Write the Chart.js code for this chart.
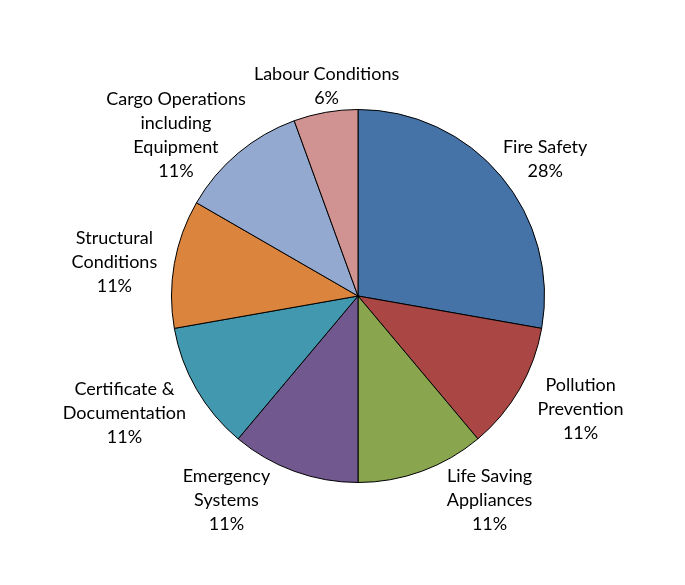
<!DOCTYPE html>
<html>
<head>
<meta charset="utf-8">
<script src="https://cdn.jsdelivr.net/npm/chart.js@4"></script>
<style>
  html, body { margin: 0; padding: 0; background: #fff; }
  #wrap { width: 685px; height: 585px; }
</style>
</head>
<body>
<div id="wrap"><canvas id="pieChart" width="685" height="585"></canvas></div>
<script>
// categories in clockwise order from 12 o'clock
const categories = [
    ['Fire Safety'],
    ['Pollution', 'Prevention'],
    ['Life Saving', 'Appliances'],
    ['Emergency', 'Systems'],
    ['Certificate &', 'Documentation'],
    ['Structural', 'Conditions'],
    ['Cargo Operations', 'including', 'Equipment'],
    ['Labour Conditions'],
];
const counts = [5, 2, 2, 2, 2, 2, 2, 1];
const percentLabels = ['28%', '11%', '11%', '11%', '11%', '11%', '11%', '6%'];

const palette = ['#4572A7', '#AA4643', '#89A54E', '#71588F', '#4198AF', '#DB843D', '#93A9CF', '#D19392'];

// small nudges so labels sit like Excel's best-fit placement
const labelNudge = [[0, 20], [11, -9], [48, -25], [-48, -25], [-22, -5], [-3, 9], [-25, 26], [11, 31]];

const outsideLabels = {
    id: 'outsideLabels',
    afterDatasetsDraw(chart) {
        const { ctx } = chart;
        const meta = chart.getDatasetMeta(0);
        ctx.save();
        ctx.font = '18px Lato, "Open Sans", sans-serif';
        ctx.fillStyle = '#000';
        ctx.textAlign = 'center';
        ctx.textBaseline = 'middle';
        const lineH = 24;
        meta.data.forEach((arc, i) => {
            const mid = (arc.startAngle + arc.endAngle) / 2;
            const d = arc.outerRadius * 1.31;
            const cx = arc.x + Math.cos(mid) * d + labelNudge[i][0];
            const cy = arc.y + Math.sin(mid) * d + labelNudge[i][1];
            const lines = categories[i].concat([percentLabels[i]]);
            const top = cy - (lines.length - 1) * lineH / 2;
            lines.forEach((t, k) => ctx.fillText(t, cx, top + k * lineH));
        });
        ctx.restore();
    },
};

new Chart(document.getElementById('pieChart'), {
    type: 'pie',
    data: {
        labels: categories.map((c) => c.join(' ')),
        datasets: [
            {
                data: counts,
                backgroundColor: palette,
                borderColor: '#000',
                borderWidth: 1,
                hoverOffset: 0,
                offset: 0,
            },
        ],
    },
    options: {
        responsive: false,
        animation: false,
        devicePixelRatio: 1,
        layout: { padding: { top: 109, bottom: 102, left: 171, right: 140 } },
        plugins: {
            legend: { display: false },
            tooltip: { enabled: false },
        },
    },
    plugins: [outsideLabels],
});
</script>
</body>
</html>
